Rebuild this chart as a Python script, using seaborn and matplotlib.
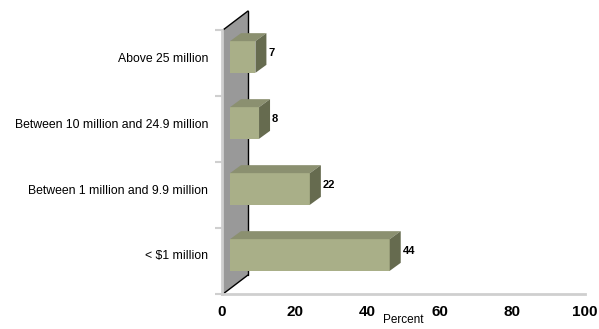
import matplotlib
matplotlib.use("Agg")
import matplotlib.pyplot as plt
import matplotlib.transforms as mtransforms
from matplotlib.patches import Polygon
from matplotlib.lines import Line2D
import seaborn as sns
import pandas as pd

# Survey data: share of respondents by size band (percent)
categories = ["Above 25 million",
              "Between 10 million and 24.9 million",
              "Between 1 million and 9.9 million",
              "< $1 million"]
values = [7, 8, 22, 44]
x_ticks = [0, 20, 40, 60, 80, 100]

sns.set_style("white")
plt.rcParams["font.family"] = ["Liberation Sans", "DejaVu Sans"]
plt.rcParams["text.color"] = "black"
plt.rcParams["xtick.labelcolor"] = "black"
plt.rcParams["ytick.labelcolor"] = "black"
plt.rcParams["axes.labelcolor"] = "black"

W, H, DPI = 599, 329, 100
fig = plt.figure(figsize=(W / DPI, H / DPI), dpi=DPI)
ax = fig.add_axes([222 / W, 35 / H, 363 / W, 264 / H])

FRONT = "#a9af88"
TOP = "#8b9070"
SIDE = "#666b4f"
WALL = "#999999"
AXIS = "#cfcfcf"

df = pd.DataFrame({"category": categories, "value": values})
sns.barplot(data=df, x="value", y="category", orient="h", color=FRONT,
            width=0.48, saturation=1, ax=ax, zorder=3)

ax.set_xlim(x_ticks[0], x_ticks[-1])
ax.set_ylim(len(categories) - 0.5, -0.5)

# 3-D depth (pixels): wall depth, bar front offset, bar thickness
WALL_DX, WALL_DY = 26, 19
BAR_DX, BAR_DY = 8, 6
DEP_DX, DEP_DY = 11, 8

ident = mtransforms.IdentityTransform()
to_px = ax.transData.transform

# back wall on the left
(x0p, ybot), = to_px([(0, len(categories) - 0.5)])
(_, ytop), = to_px([(0, -0.5)])
wall = Polygon([(x0p + 1, ybot), (x0p + 1, ytop), (x0p + WALL_DX, ytop + WALL_DY),
                (x0p + WALL_DX, ybot + WALL_DY)], closed=True,
               facecolor=WALL, edgecolor="none", transform=ident, zorder=1,
               clip_on=False)
ax.add_patch(wall)
for xs, ys in [([x0p + 1, x0p + WALL_DX], [ytop, ytop + WALL_DY]),
               ([x0p + WALL_DX, x0p + WALL_DX], [ytop + WALL_DY, ybot + WALL_DY]),
               ([x0p + 1, x0p + WALL_DX], [ybot, ybot + WALL_DY])]:
    ax.add_line(Line2D(xs, ys, color="black", lw=1.0, transform=ident, zorder=1.5,
                       clip_on=False))

# bars: shift front faces into depth and add top and side faces
shift = mtransforms.ScaledTranslation(BAR_DX / DPI, BAR_DY / DPI, fig.dpi_scale_trans)
for patch, val in zip(ax.patches, values):
    bx, by = patch.get_x(), patch.get_y()
    bw, bh = patch.get_width(), patch.get_height()
    patch.set_transform(ax.transData + shift)
    patch.set_edgecolor("none")
    patch.set_clip_on(False)
    (lx, lo), (rx, hi) = to_px([(bx, by + bh), (bx + bw, by)])
    lx += BAR_DX; rx += BAR_DX; lo += BAR_DY; hi += BAR_DY
    top = Polygon([(lx, hi), (rx, hi), (rx + DEP_DX, hi + DEP_DY),
                   (lx + DEP_DX, hi + DEP_DY)], closed=True,
                  facecolor=TOP, edgecolor="none", transform=ident, zorder=4,
                  clip_on=False)
    side = Polygon([(rx, lo), (rx, hi), (rx + DEP_DX, hi + DEP_DY),
                    (rx + DEP_DX, lo + DEP_DY)], closed=True,
                   facecolor=SIDE, edgecolor="none", transform=ident, zorder=4,
                   clip_on=False)
    ax.add_patch(top)
    ax.add_patch(side)
    ax.text(rx + DEP_DX + 2, (lo + hi) / 2 + DEP_DY / 2, str(val),
            transform=ident, ha="left", va="center", fontsize=8,
            fontweight="bold", color="black", zorder=5)

# axes styling
for s in ["top", "right"]:
    ax.spines[s].set_visible(False)
for s in ["left", "bottom"]:
    ax.spines[s].set_color(AXIS)
    ax.spines[s].set_linewidth(2)
    ax.spines[s].set_zorder(2)

ax.set_xticks(x_ticks)
ax.set_xticklabels([str(t) for t in x_ticks], fontsize=11, fontweight="bold")
ax.tick_params(axis="x", length=5, width=1.5, color=AXIS, pad=3, labelcolor="black")

bounds = [i - 0.5 for i in range(len(categories) + 1)]
ax.set_yticks(bounds)
ax.set_yticklabels([])
ax.set_yticks(range(len(categories)), minor=True)
ax.set_yticklabels(categories, minor=True, fontsize=8.8)
ax.tick_params(axis="y", which="major", left=True, length=5, width=1.5, color=AXIS)
ax.tick_params(axis="y", which="minor", left=True, length=0, pad=10, labelcolor="black")
lift = mtransforms.ScaledTranslation(0, 6 / DPI, fig.dpi_scale_trans)
for lab in ax.get_yticklabels(minor=True):
    lab.set_transform(lab.get_transform() + lift)

ax.set_ylabel("")
ax.set_xlabel("Percent", fontsize=8.5, labelpad=-4, color="black")
ax.grid(False)
ax.patch.set_alpha(0)

fig.savefig("out.png", dpi=DPI)
